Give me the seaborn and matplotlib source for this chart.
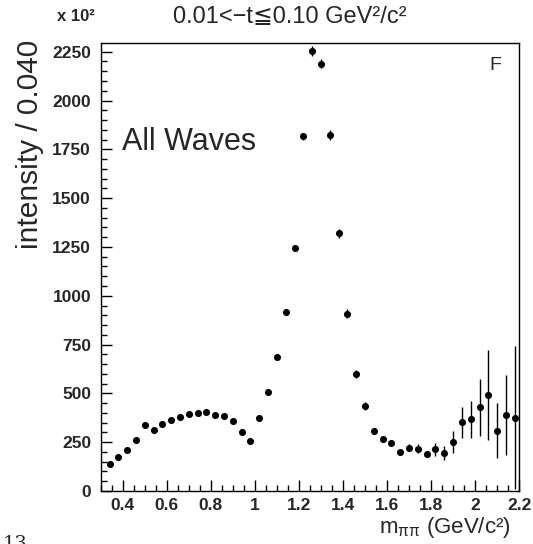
import numpy as np
import pandas as pd
import matplotlib
matplotlib.use("Agg")
import matplotlib.pyplot as plt
import matplotlib.ticker as mticker
import seaborn as sns

# data (bin width 0.040)
mass = [0.34, 0.38, 0.42, 0.46, 0.50, 0.54, 0.58, 0.62, 0.66, 0.70,
        0.74, 0.78, 0.82, 0.86, 0.90, 0.94, 0.98, 1.02, 1.06, 1.10,
        1.14, 1.18, 1.22, 1.26, 1.30, 1.34, 1.38, 1.42, 1.46, 1.50,
        1.54, 1.58, 1.62, 1.66, 1.70, 1.74, 1.78, 1.82, 1.86, 1.90,
        1.94, 1.98, 2.02, 2.06, 2.10, 2.14, 2.18]
intensity = [138, 174, 208, 260, 337, 314, 342, 364, 379, 394,
             401, 405, 389, 384, 357, 301, 256, 372, 509, 688,
             919, 1245, 1817, 2254, 2189, 1824, 1320, 908, 598, 435,
             309, 265, 244, 201, 222, 217, 188, 213, 196, 251,
             352, 367, 430, 490, 309, 389, 376]
error = [8, 8, 8, 8, 8, 8, 8, 8, 8, 8,
         8, 8, 8, 8, 8, 8, 8, 8, 10, 12,
         15, 15, 18, 25, 25, 25, 22, 22, 20, 22,
         12, 12, 14, 10, 17, 23, 12, 32, 35, 54,
         78, 94, 146, 230, 142, 205, 367]

x_ticks = [0.4, 0.6, 0.8, 1.0, 1.2, 1.4, 1.6, 1.8, 2.0, 2.2]
y_ticks = [0, 250, 500, 750, 1000, 1250, 1500, 1750, 2000, 2250]

df = pd.DataFrame({"mass": mass, "intensity": intensity, "error": error})

sns.set_theme(style="white")
plt.rcParams["font.family"] = ["Liberation Sans", "DejaVu Sans", "Noto Sans CJK SC"]

fig = plt.figure(figsize=(5.33, 5.44), dpi=100)
ax = fig.add_axes([0.189, 0.0974, 0.785, 0.8241])

ax.errorbar(df["mass"], df["intensity"], yerr=df["error"], fmt="none",
            ecolor="black", elinewidth=1.0, capsize=0, zorder=2)
sns.scatterplot(data=df, x="mass", y="intensity", ax=ax, color="black",
                s=26, edgecolor="black", linewidth=0, zorder=3)

ax.set_xlim(0.3, 2.2)
ax.set_ylim(0, 2296)
ax.xaxis.set_major_locator(mticker.FixedLocator(x_ticks))
ax.xaxis.set_minor_locator(mticker.MultipleLocator(0.05))
ax.yaxis.set_major_locator(mticker.FixedLocator(y_ticks))
ax.yaxis.set_minor_locator(mticker.MultipleLocator(50))
ax.xaxis.set_major_formatter(mticker.FuncFormatter(lambda v, _: f"{v:g}"))
ax.yaxis.set_major_formatter(mticker.FuncFormatter(lambda v, _: f"{v:g}"))

ax.tick_params(which="major", direction="in", length=8, width=1, color="black",
               labelsize=12.5, bottom=True, left=True, top=False, right=False)
ax.tick_params(which="minor", direction="in", length=4, width=1, color="black",
               bottom=True, left=True, top=False, right=False)
ax.tick_params(axis="y", pad=7)
ax.tick_params(axis="x", pad=5)
for lab in ax.get_xticklabels() + ax.get_yticklabels():
    lab.set_fontweight("bold")

for sp in ax.spines.values():
    sp.set_color("black")
    sp.set_linewidth(1)

ax.set_xlabel("")
ax.set_ylabel("")
ax.grid(False)

# texts
fig.text(0.544, 0.969, "0.01<\u2212t\u22660.10 GeV\u00b2/c\u00b2", ha="center", va="center",
         fontsize=17)
fig.text(0.143, 0.969, "x 10\u00b2", ha="center", va="center", fontsize=12,
         fontweight="bold")
fig.text(0.056, 0.927, "intensity / 0.040", rotation=90, ha="center", va="top",
         fontsize=21.5)
fig.text(0.958, 0.053, "m$_{\\mathregular{\u03c0\u03c0}}$ (GeV/c\u00b2)", ha="right",
         va="top", fontsize=16)
ax.text(0.051, 0.778, "All Waves", transform=ax.transAxes, ha="left", va="center",
        fontsize=22)
ax.text(0.944, 0.950, "F", transform=ax.transAxes, ha="center", va="center",
        fontsize=14)
fig.text(0.004, 0.017, "13", ha="left", va="top", fontsize=14, family="DejaVu Serif")

fig.savefig("out.png", dpi=100)
